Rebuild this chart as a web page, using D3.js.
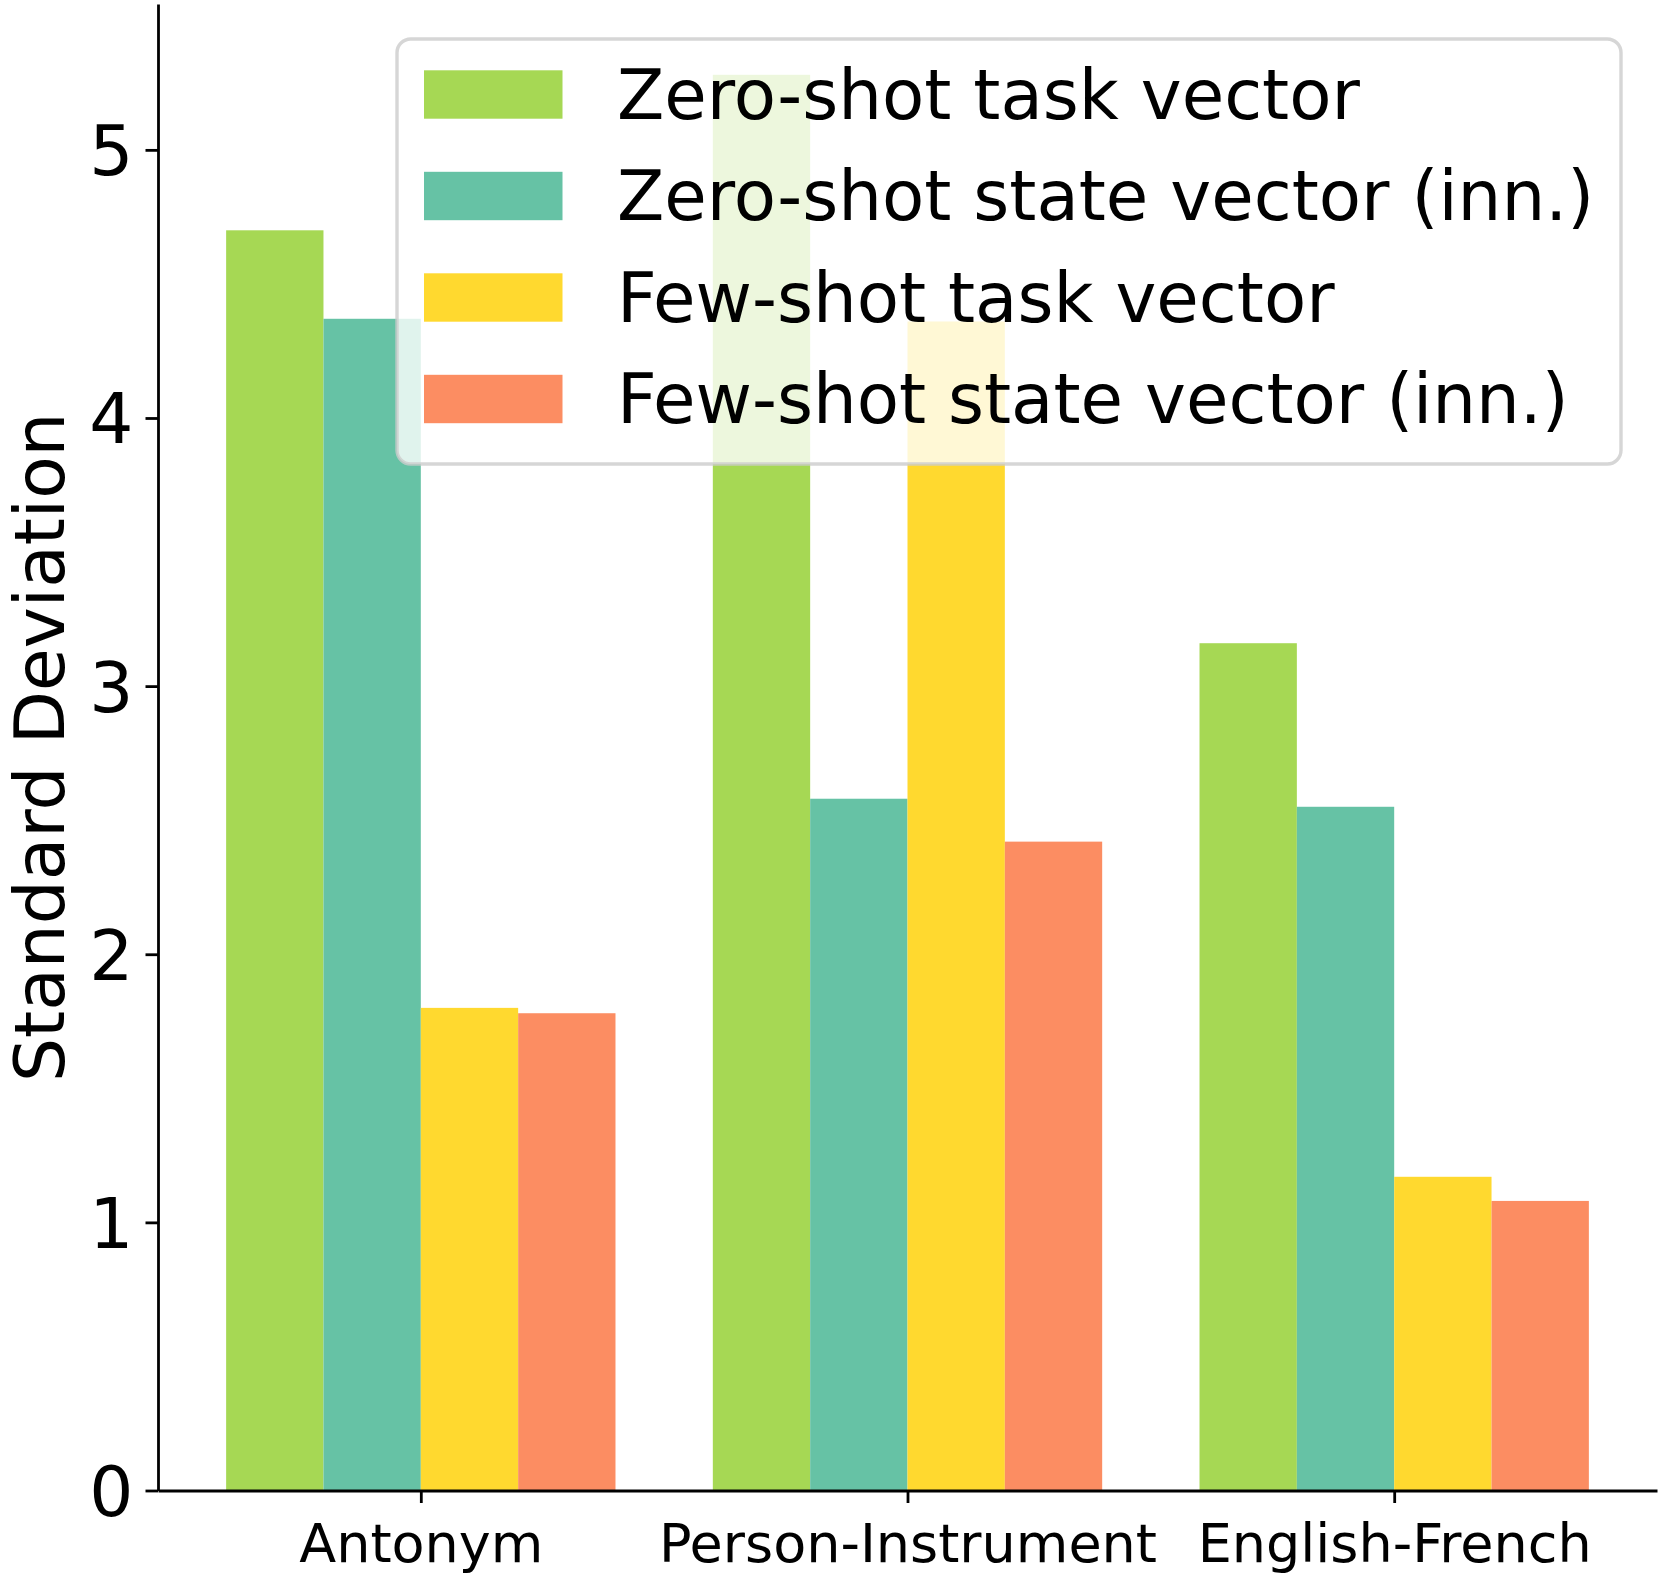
<!DOCTYPE html>
<html>
<head>
<meta charset="utf-8">
<script src="https://cdn.jsdelivr.net/npm/d3@7"></script>
<style>
  html, body { margin: 0; padding: 0; background: #ffffff; }
  svg { display: block; font-family: "DejaVu Sans", sans-serif; }
</style>
</head>
<body>
<svg id="chart" width="1660" height="1576"></svg>
<script>
// ---- data ----
const categories = ["Antonym", "Person-Instrument", "English-French"];
const seriesNames = [
  "Zero-shot task vector",
  "Zero-shot state vector (inn.)",
  "Few-shot task vector",
  "Few-shot state vector (inn.)"
];
const zeroShotTask  = [4.70, 5.28, 3.16];
const zeroShotState = [4.37, 2.58, 2.55];
const fewShotTask   = [1.80, 4.36, 1.17];
const fewShotState  = [1.78, 2.42, 1.08];
const seriesColors = ["#a6d854", "#66c2a5", "#ffd92f", "#fc8d62"];
const yTickValues = [0, 1, 2, 3, 4, 5];
const yLabel = "Standard Deviation";

const seriesValues = [zeroShotTask, zeroShotState, fewShotTask, fewShotState];

// ---- layout ----
const plotLeft = 158, plotRight = 1657, plotTop = 4, plotBottom = 1490.5;
const barWidth = 0.2;
const xMin = -0.4 - 0.14, xMax = (categories.length - 1) + 0.4 + 0.14;
const allVals = seriesValues.flat();
const yMax = d3.max(allVals) * 1.05;

const x = d3.scaleLinear().domain([xMin, xMax]).range([plotLeft, plotRight]);
const y = d3.scaleLinear().domain([0, yMax]).range([plotBottom, plotTop]);

const svg = d3.select("#chart");

// bars
const barData = [];
seriesValues.forEach((vals, s) => {
  vals.forEach((v, i) => {
    barData.push({ s, i, v, x0: i - 0.4 + s * barWidth });
  });
});
svg.append("g").selectAll("rect").data(barData).join("rect")
  .attr("x", d => x(d.x0))
  .attr("width", d => x(d.x0 + barWidth) - x(d.x0))
  .attr("y", d => y(d.v))
  .attr("height", d => y(0) - y(d.v))
  .attr("fill", d => seriesColors[d.s]);

// y axis
const yAxis = svg.append("g")
  .attr("transform", `translate(${plotLeft},0)`)
  .call(d3.axisLeft(y).tickValues(yTickValues).tickFormat(d3.format("d"))
    .tickSizeInner(12.5).tickSizeOuter(0).tickPadding(12));
yAxis.select(".domain").attr("stroke", "#000").attr("stroke-width", 2.8);
yAxis.selectAll(".tick line").attr("stroke", "#000").attr("stroke-width", 2.8);
yAxis.selectAll(".tick text")
  .attr("fill", "#000")
  .attr("font-size", 69.4)
  .attr("font-family", "DejaVu Sans")
  .attr("dy", "0.36em");

// x axis
const xAxis = svg.append("g")
  .attr("transform", `translate(0,${plotBottom})`)
  .call(d3.axisBottom(x).tickValues(d3.range(categories.length))
    .tickFormat(i => categories[i]).tickSizeInner(12.5).tickSizeOuter(0).tickPadding(12));
xAxis.select(".domain").attr("stroke", "#000").attr("stroke-width", 2.8);
xAxis.selectAll(".tick line").attr("stroke", "#000").attr("stroke-width", 2.8);
xAxis.selectAll(".tick text")
  .attr("fill", "#000")
  .attr("font-size", 54)
  .attr("font-family", "DejaVu Sans")
  .attr("y", 71)
  .attr("dy", 0);

// y label
svg.append("text")
  .attr("transform", `translate(64,${(plotTop + plotBottom) / 2}) rotate(-90)`)
  .attr("text-anchor", "middle")
  .attr("font-size", 69.4)
  .attr("fill", "#000")
  .text(yLabel);

// legend
const legFont = 69.1;
const legend = svg.append("g").attr("transform", "translate(397,39)");
legend.append("rect")
  .attr("x", 0).attr("y", 0)
  .attr("width", 1224).attr("height", 425)
  .attr("rx", 13.7).attr("ry", 13.7)
  .attr("fill", "#ffffff").attr("fill-opacity", 0.8)
  .attr("stroke", "#cccccc").attr("stroke-opacity", 0.8)
  .attr("stroke-width", 3.4);
const rowCenters = [55.5, 157, 258.5, 360];
const items = legend.selectAll("g.item").data(seriesNames).join("g")
  .attr("class", "item")
  .attr("transform", (d, k) => `translate(0,${rowCenters[k]})`);
items.append("rect")
  .attr("x", 27).attr("y", -24.2)
  .attr("width", 138.5).attr("height", 48.4)
  .attr("fill", (d, k) => seriesColors[k]);
items.append("text")
  .attr("x", 220).attr("y", 24.4)
  .attr("font-size", legFont)
  .attr("fill", "#000")
  .text(d => d);
</script>
</body>
</html>
